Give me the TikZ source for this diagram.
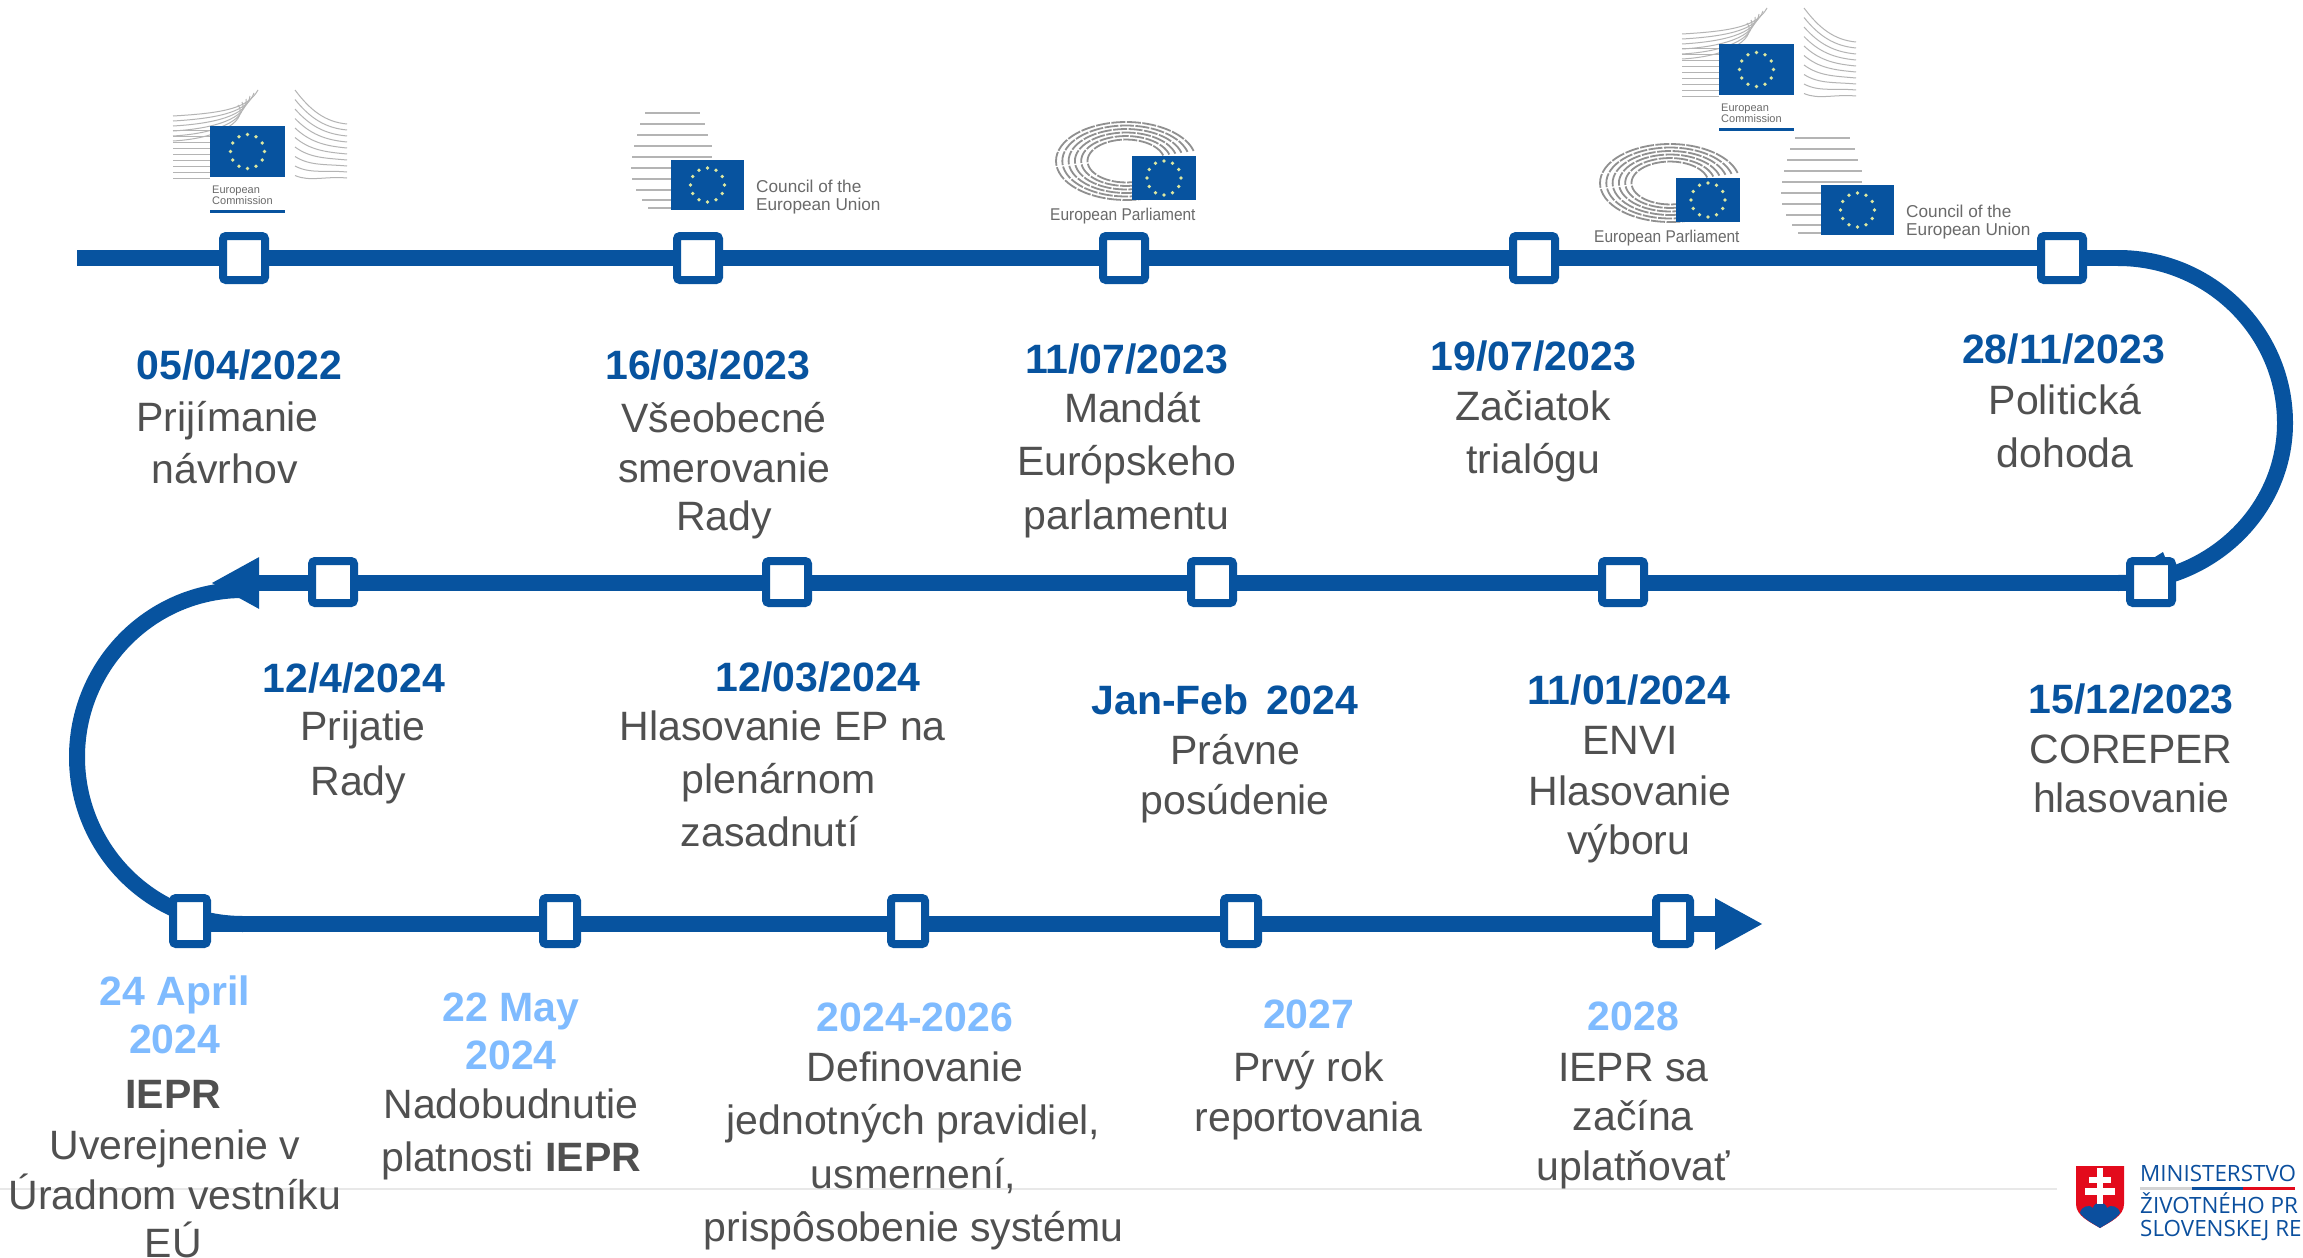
\documentclass[tikz,border=0pt]{standalone}
\usepackage{fontspec}
\setmainfont{Liberation Sans}
\newfontfamily\minfont{Open Sans}
\usetikzlibrary{arrows.meta}
\definecolor{track}{HTML}{07539F}
\definecolor{bodytx}{HTML}{505050}
\definecolor{lightd}{HTML}{7FBBFF}
\definecolor{logogr}{HTML}{6A6A6A}
\definecolor{stripe}{HTML}{B4B4B4}
\definecolor{minred}{HTML}{E30A1C}
\definecolor{minblue}{HTML}{0B4F9E}
\definecolor{eustar}{HTML}{DDE8A0}
\tikzset{
  trackline/.style={draw=track,line width=16pt},
  tipline/.style={trackline,-{Triangle[length=48pt,width=48pt]}},
  msbox/.style={draw=track,fill=white,line width=8pt,rounded corners=3pt,inner sep=0pt,minimum width=#1},
  msbox/.default=42pt,
  lb/.style={anchor=base,inner sep=0pt,font=\fontsize{41}{41}\selectfont,text=bodytx},
  dt/.style={lb,font=\fontsize{41}{41}\selectfont\bfseries,text=track},
  ld/.style={lb,font=\fontsize{41}{41}\selectfont\bfseries,text=lightd},
  bb/.style={lb,font=\fontsize{41}{41}\selectfont\bfseries},
  logotx/.style={anchor=base west,inner sep=0pt,text=logogr},
  mintx/.style={anchor=base west,inner sep=0pt,text=minblue,font=\minfont\fontsize{22.4}{22.4}\selectfont},
  stripes/.style={draw=stripe,line width=#1},
  stripes/.default=1pt
}
% event text line: name, display x, display y, style, text
\newcommand{\evl}[5]{\node[#4] (#1) at ({#2*1.4687},{(#3+9.5)*1.4687}) {#5};}
\newcommand{\euflag}[4]{%
  \fill[track] (#1,#2) rectangle (#3,#4);
  \foreach \a in {0,30,...,330}{\fill[eustar] ({(#1+#3)/2+17*cos(\a)},{(#2+#4)/2+17*sin(\a)}) circle (1.9pt);}
}
\newcommand{\commission}[3]{%
\begin{scope}[shift={(#1,#2)}]
  \foreach \y in {130,136,...,178}{\draw[stripes] (173,\y) -- (210,\y);}
  \foreach \i in {0,...,5}{\draw[stripes] (173,{116+\i*5}) .. controls (225,{113+\i*5}) and (248,{108+\i*2}) .. ({258-\i*4},{90+\i*3});}
  \foreach \i in {0,...,9}{\draw[stripes] (295,{90+\i*9.5}) .. controls (310,{110+\i*8}) and (325,{122+\i*6}) .. (347,{124+\i*6});}
  \euflag{210}{126}{285}{177}
  \node[logotx,font=\fontsize{11}{11}\selectfont] (#3a) at (212,193) {European};
  \node[logotx,font=\fontsize{11}{11}\selectfont] (#3b) at (212,204) {Commission};
  \fill[track] (210,210) rectangle (285,213);
\end{scope}}
\newcommand{\council}[3]{%
\begin{scope}[shift={(#1,#2)}]
  \foreach \y/\l/\r in {113/645/700,124/640/705,135/637/708,146/634/712,157/632/712,168/631/690,179/632/690,190/636/690,200/642/690,208/648/690}{\draw[stripes=2.6pt] (\l,\y) -- (\r,\y);}
  \euflag{671}{160}{744}{210}
  \node[logotx,font=\fontsize{17.2}{17.2}\selectfont] (#3a) at (756,192) {Council of the};
  \node[logotx,font=\fontsize{17.2}{17.2}\selectfont] (#3b) at (756,210) {European Union};
\end{scope}}
\newcommand{\parliament}[3]{%
\begin{scope}[shift={(#1,#2)}]
  \foreach \k in {0.55,0.64,...,1.02}{
    \draw[stripes=1.8pt,dash pattern=on 14pt off 1.5pt,draw=stripe!80!black]
      plot[domain=15:285,samples=50,smooth] ({1126+70*\k*cos(\x)},{161-39*\k*sin(\x)});
  }
  \euflag{1132}{156}{1196}{200}
  \node[logotx,font=\fontsize{17}{17}\selectfont] (#3a) at (1050,220) {\scalebox{.91}[1]{European Parliament}};
\end{scope}}
\begin{document}
\begin{tikzpicture}[x=1pt,y=-1pt]
\useasboundingbox (0,0) rectangle (2303,1258);
\fill[white] (0,0) rectangle (2303,1258);
% footer rule
\coordinate (ruleL) at (0,1189);
\coordinate (ruleR) at (2057,1189);
\draw[draw=black!9,line width=2.5pt] (ruleL) -- (ruleR);
% logos
\commission{0}{0}{ca}
\commission{1509}{-82}{cb}
\council{0}{0}{ua}
\council{1150}{25}{ub}
\parliament{0}{0}{pa}
\parliament{544}{22}{pb}
% curved ends (below the boxes)
\coordinate (rTop) at (2118,258);
\coordinate (rMid) at (2285,423);
\coordinate (rBot) at (2118,583);
\coordinate (lTop) at (243,590);
\coordinate (lMid) at (77,757);
\coordinate (lBot) at (243,924);
\draw[trackline] (rTop) .. controls (2210,258) and (2285,332) .. (rMid) .. controls (2285,511) and (2210,583) .. (rBot);
\draw[trackline] (lTop) .. controls (151,590) and (77,665) .. (lMid) .. controls (77,849) and (151,924) .. (lBot);
\fill[track] (2155,557) -- (2163,552) -- (2165,557) -- cycle;
% milestone boxes
\foreach \n/\x in {a1/244,a2/698,a3/1124,a4/1534,a5/2062}{\node[msbox=42pt,minimum height=44pt] (\n) at (\x,258) {};}
\foreach \n/\x in {b1/333,b2/787,b3/1212,b4/1623,b5/2151}{\node[msbox=42pt,minimum height=42pt] (\n) at (\x,582) {};}
\foreach \n/\x in {c1/190,c2/560,c3/908,c4/1241,c5/1673}{\node[msbox=34pt,minimum height=46pt] (\n) at (\x,921) {};}
% straight runs
\coordinate (aStart) at (77,258);
\coordinate (bTip) at (211,583);
\coordinate (cTip) at (1763,924);
\draw[trackline] (aStart) -- (a1);
\draw[trackline] (a1) -- (a2);
\draw[trackline] (a2) -- (a3);
\draw[trackline] (a3) -- (a4);
\draw[trackline] (a4) -- (a5);
\draw[trackline] (a5.east) -- (rTop);
\draw[trackline] (b5.west|-rBot) -- (b4.east|-rBot);
\draw[trackline] (b4.west|-rBot) -- (b3.east|-rBot);
\draw[trackline] (b3.west|-rBot) -- (b2.east|-rBot);
\draw[trackline] (b2.west|-rBot) -- (b1.east|-rBot);
\draw[tipline] (b1.west|-rBot) -- (bTip);
\draw[trackline] (lBot) -- (c2.west|-lBot);
\draw[trackline] (c2.east|-lBot) -- (c3.west|-lBot);
\draw[trackline] (c3.east|-lBot) -- (c4.west|-lBot);
\draw[trackline] (c4.east|-lBot) -- (c5.west|-lBot);
\draw[tipline] (c5.east|-lBot) -- (cTip);
\draw[trackline] (c1.east|-lBot) -- (lBot);
% row 1 texts
\evl{t1}{163}{249}{dt}{05/04/2022}
\evl{t1a}{155}{284}{lb}{Prijímanie}
\evl{t1b}{153}{320}{lb}{návrhov}
\evl{t2}{482}{249}{dt}{16/03/2023}
\evl{t2a}{493}{285}{lb}{Všeobecné}
\evl{t2b}{493}{319}{lb}{smerovanie}
\evl{t2c}{493}{352}{lb}{Rady}
\evl{t3}{767}{245}{dt}{11/07/2023}
\evl{t3a}{771}{278}{lb}{Mandát}
\evl{t3b}{767}{314}{lb}{Európskeho}
\evl{t3c}{767}{351}{lb}{parlamentu}
\evl{t4}{1044}{243}{dt}{19/07/2023}
\evl{t4a}{1044}{277}{lb}{Začiatok}
\evl{t4b}{1044}{313}{lb}{trialógu}
\evl{t5}{1405}{238}{dt}{28/11/2023}
\evl{t5a}{1406}{273}{lb}{Politická}
\evl{t5b}{1406}{309}{lb}{dohoda}
% row 2 texts
\evl{u1}{241}{462}{dt}{12/4/2024}
\evl{u1a}{247}{495}{lb}{Prijatie}
\evl{u1b}{244}{532}{lb}{Rady}
\evl{u2}{557}{461}{dt}{12/03/2024}
\evl{u2a}{533}{495}{lb}{Hlasovanie EP na}
\evl{u2b}{530}{531}{lb}{plenárnom}
\evl{u2c}{524}{567}{lb}{zasadnutí}
\evl{u3}{834}{477}{dt}{Jan-Feb\ \,2024}
\evl{u3a}{841}{511}{lb}{Právne}
\evl{u3b}{841}{545}{lb}{posúdenie}
\evl{u4}{1109}{470}{dt}{11/01/2024}
\evl{u4a}{1110}{504}{lb}{ENVI}
\evl{u4b}{1110}{539}{lb}{Hlasovanie}
\evl{u4c}{1109}{572}{lb}{výboru}
\evl{u5}{1451}{476}{dt}{15/12/2023}
\evl{u5a}{1451}{510}{lb}{COREPER}
\evl{u5b}{1451}{544}{lb}{hlasovanie}
% row 3 texts
\evl{v1}{119}{675}{ld}{24 April}
\evl{v1a}{119}{708}{ld}{2024}
\evl{v1b}{118}{745}{bb}{IEPR}
\evl{v1c}{119}{780}{lb}{Uverejnenie v}
\evl{v1d}{119}{814}{lb}{Úradnom vestníku}
\node[lb] (v1e) at ({118*1.4687},1257) {EÚ};
\evl{v2}{348}{686}{ld}{22 May}
\evl{v2a}{348}{719}{ld}{2024}
\evl{v2b}{348}{752}{lb}{Nadobudnutie}
\evl{v2c}{348}{788}{lb}{platnosti \textbf{IEPR}}
\evl{v3}{623}{693}{ld}{2024-2026}
\evl{v3a}{623}{727}{lb}{Definovanie}
\evl{v3b}{622}{763}{lb}{jednotných pravidiel,}
\evl{v3c}{622}{800}{lb}{usmernení,}
\evl{v3d}{622}{836}{lb}{prispôsobenie systému}
\evl{v4}{891}{691}{ld}{2027}
\evl{v4a}{891}{727}{lb}{Prvý rok}
\evl{v4b}{891}{761}{lb}{reportovania}
\evl{v5}{1112}{692}{ld}{2028}
\evl{v5a}{1112}{727}{lb}{IEPR sa}
\evl{v5b}{1112}{760}{lb}{začína}
\evl{v5c}{1112}{794}{lb}{uplatňovať}
% ministry logo
\fill[minred] (2076,1166) -- (2124,1166) -- (2124,1204) .. controls (2124,1216) and (2110,1222) .. (2100,1228) .. controls (2090,1222) and (2076,1216) .. (2076,1204) -- cycle;
\fill[minblue] (2080,1213) .. controls (2081,1206) and (2090,1204) .. (2093,1208) .. controls (2094,1201) and (2106,1201) .. (2107,1208) .. controls (2110,1204) and (2119,1206) .. (2120,1213) .. controls (2115,1220) and (2106,1224) .. (2100,1228) .. controls (2094,1224) and (2085,1220) .. (2080,1213) -- cycle;
\fill[white] (2097,1168) rectangle (2103,1204);
\fill[white] (2089,1177) rectangle (2111,1183);
\fill[white] (2085,1188) rectangle (2115,1195);
\node[mintx] (minA) at (2140,1181) {MINISTERSTVO};
\node[mintx] (minB) at (2140,1213) {ŽIVOTNÉHO PR};
\node[mintx] (minC) at (2140,1236) {SLOVENSKEJ RE};
\fill[black!17] (2140,1187) rectangle (2192,1190);
\fill[minblue] (2192,1187) rectangle (2243,1190);
\fill[minred] (2243,1187) rectangle (2295,1190);
\end{tikzpicture}
\end{document}
